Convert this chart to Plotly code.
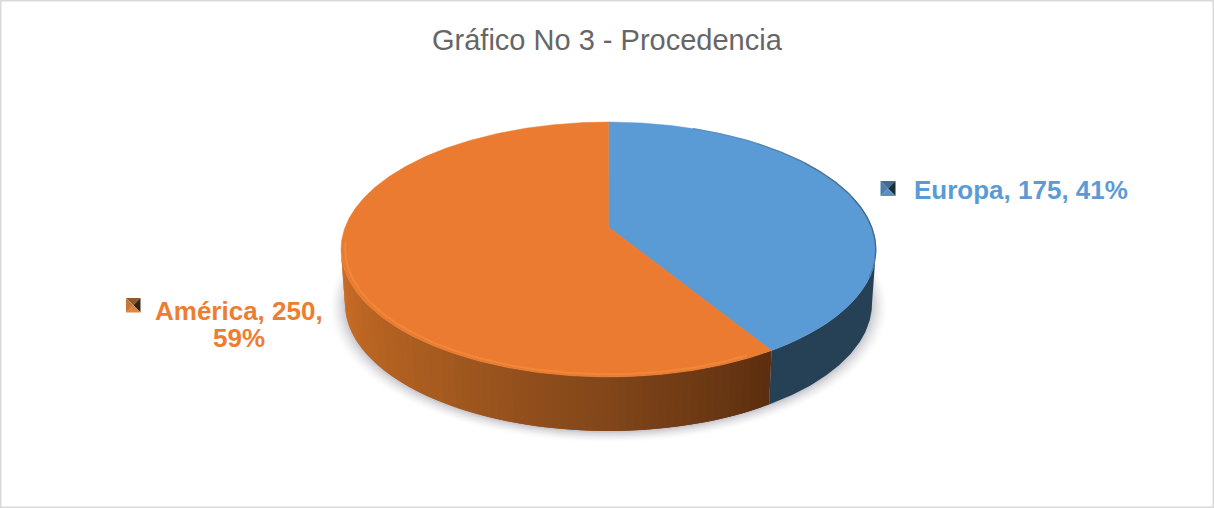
import numpy as np
import plotly.graph_objects as go

categories = ["Europa", "América"]
values = [175, 250]
title_text = "Gráfico No 3 - Procedencia"

# Pie geometry (perspective-tilted disc, in page pixels)
CX, CY, A, B, K, DEPTH, LOWER = 608.5, 227.0, 123.5, 263.3, 0.1765, 54.0, 0.985
TOP_COLORS = ["#5B9BD5", "#EA7B30"]
TEXT_COLORS = ["#5B9BD5", "#ED7D31"]


def ring(theta_deg, r=1.0, dy=0.0, s=1.0):
    t = np.radians(np.asarray(theta_deg, dtype=float))
    X, Y = r * np.sin(t), -r * np.cos(t)
    d = 1 - K * Y
    return CX + s * B * X / d, CY + A * Y / d + dy


def arc(a0, a1, n=None, **kw):
    n = n or max(3, int(abs(a1 - a0) * 2))
    return ring(np.linspace(a0, a1, n), **kw)


total = sum(values)
shares = [v / total for v in values]
edges = np.concatenate([[0.0], np.cumsum(shares) * 360.0])
RIGHT = np.degrees(np.arccos(-K))
LEFT = 360 - RIGHT
split = edges[1]

fig = go.Figure()


def poly(x, y, fill, line=None, width=0):
    fig.add_trace(go.Scatter(
        x=list(x), y=list(y), mode="lines", fill="toself", fillcolor=fill,
        line=dict(color=line or "rgba(0,0,0,0)", width=width),
        hoverinfo="skip", showlegend=False))


# soft shadow below the disc
for grow, alpha in zip(np.linspace(1.055, 1.0, 10), [0.015, 0.02, 0.025, 0.03, 0.035, 0.04, 0.05, 0.06, 0.07, 0.08]):
    x, y = arc(0, 360, n=240, r=grow, dy=DEPTH + 1, s=LOWER)
    poly(x, y, f"rgba(100,100,125,{alpha})")


def wall_color(theta):
    pts = [split, 180, 215, 240, LEFT]
    r = np.interp(theta, pts, [92, 130, 168, 190, 205])
    g = np.interp(theta, pts, [47, 70, 92, 103, 112])
    b = np.interp(theta, pts, [16, 26, 32, 36, 42])
    return f"rgb({int(r)},{int(g)},{int(b)})"


def wall(a0, a1, col):
    xt, yt = arc(a0, a1)
    xb, yb = arc(a1, a0, dy=DEPTH, s=LOWER)
    poly(np.r_[xt, xb, xt[0]], np.r_[yt, yb, yt[0]], col)


# side wall: flat for the first slice, shaded for the second (strips overlap so no seams show)
wall(RIGHT, split, "#264056")
steps = np.r_[np.arange(split, LEFT, 1.5), LEFT]
for a0, a1 in zip(steps[:-1], np.r_[steps[2:], LEFT]):
    wall(a0, a1, wall_color(a0 + 0.75))

# top faces, one per category
for i, cat in enumerate(categories):
    x, y = arc(edges[i], edges[i + 1])
    fig.add_trace(go.Scatter(
        x=np.r_[CX, x, CX], y=np.r_[CY, y, CY], mode="lines", fill="toself",
        fillcolor=TOP_COLORS[i], line=dict(color=TOP_COLORS[i], width=0.5),
        name=cat, text=f"{cat}: {values[i]}", hoverinfo="text", showlegend=False))


def rim(a0, a1, color, width, r=1.0):
    x, y = arc(a0, a1, r=r)
    fig.add_trace(go.Scatter(x=x, y=y, mode="lines", line=dict(color=color, width=width),
                             hoverinfo="skip", showlegend=False))


# bevel on the rim
rim(split + 5, LEFT + 3, "#F08838", 2.0, r=0.985)
for a0, a1, c in [(22, 40, "#5591C8"), (40, 55, "#5083B2"), (55, 75, "#4B7399"),
                  (75, RIGHT + 4, "#466A8C"), (RIGHT + 4, RIGHT + 12, "#4F80AC")]:
    rim(a0, a1, c, 1.4, r=0.999)


def key(x0, y0, size, faces):
    cx, cy = x0 + size / 2, y0 + size / 2
    x1, y1 = x0 + size, y0 + size
    corners = [((x0, y0), (x1, y0)), ((x1, y0), (x1, y1)), ((x1, y1), (x0, y1)), ((x0, y1), (x0, y0))]
    for (p, q), c in zip(corners, faces):
        fig.add_shape(type="path", path=f"M{p[0]},{p[1]} L{q[0]},{q[1]} L{cx},{cy} Z",
                      fillcolor=c, line_width=0, layer="above")


key(880.5, 181, 15, ["#3F6C96", "#1B2C3B", "#5A8FC0", "#4C7EAE"])
key(126, 298, 14.5, ["#8E5A2C", "#3A2410", "#E0853F", "#C9763A"])

label_lines = [
    (f"<b>{categories[0]}, {values[0]}, {round(shares[0] * 100)}%</b>", TEXT_COLORS[0], 1020.5, 190),
    (f"<b>{categories[1]}, {values[1]},</b>", TEXT_COLORS[1], 239, 311),
    (f"<b>{round(shares[1] * 100)}%</b>", TEXT_COLORS[1], 239, 338),
]
for text, color, lx, ly in label_lines:
    fig.add_annotation(x=lx, y=ly, text=text, showarrow=False, align="center",
                       font=dict(family="Liberation Sans", size=26, color=color))

fig.update_layout(
    width=1214, height=508, autosize=False, margin=dict(l=0, r=0, t=0, b=0),
    paper_bgcolor="white", plot_bgcolor="white", showlegend=False,
    xaxis=dict(range=[0, 1214], visible=False, fixedrange=True),
    yaxis=dict(range=[508, 0], visible=False, fixedrange=True),
    annotations=list(fig.layout.annotations) + [dict(
        x=607.5, y=40, text=title_text, showarrow=False,
        font=dict(family="Liberation Sans", size=29, color="#666666"))],
    shapes=list(fig.layout.shapes) + [dict(
        type="rect", xref="paper", yref="paper", x0=0, y0=0, x1=1, y1=1,
        line=dict(color="#D9D9D9", width=3), layer="above")],
)

fig.write_html("out.html", config={"displayModeBar": False},
               post_script="document.body.style.margin='0';")
